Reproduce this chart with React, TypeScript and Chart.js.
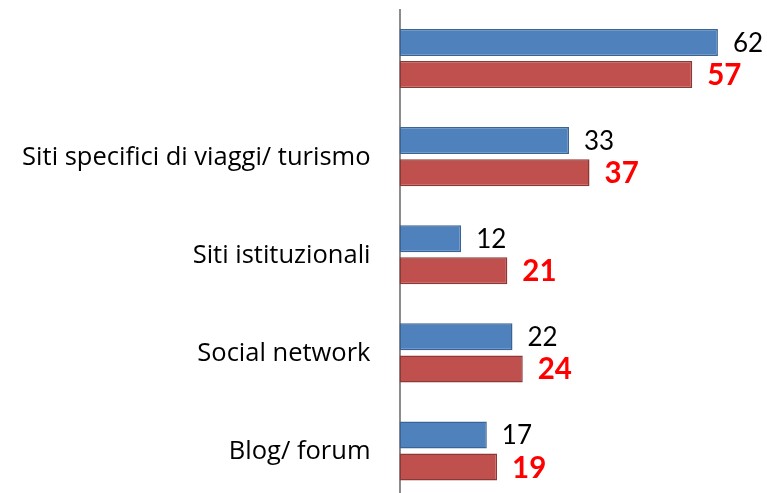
import React, { useEffect, useRef } from "react";
import { Chart, registerables } from "chart.js";

Chart.register(...registerables);

const categories = ["", "Siti specifici di viaggi/ turismo", "Siti istituzionali", "Social network", "Blog/ forum"];
const blueValues = [62, 33, 12, 22, 17];
const redValues = [57, 37, 21, 24, 19];

const FONT = "Lato, 'Open Sans', sans-serif";
const LABEL_FONT = "'Open Sans', sans-serif";

const customLabels = {
  id: "customLabels",
  afterDatasetsDraw(chart: any) {
    const ctx = chart.ctx;
    const yScale = chart.scales.y;
    ctx.save();
    ctx.font = `400 25.5px ${LABEL_FONT}`;
    ctx.fillStyle = "#000000";
    ctx.textAlign = "right";
    ctx.textBaseline = "middle";
    chart.data.labels.forEach((lab: string, i: number) => {
      ctx.fillText(lab, yScale.right - 29, yScale.getPixelForValue(i) + 1);
    });
    ctx.restore();
    chart.data.datasets.forEach((ds: any, di: number) => {
      const meta = chart.getDatasetMeta(di);
      meta.data.forEach((bar: any, i: number) => {
        ctx.save();
        if (di === 0) {
          ctx.font = `400 26px ${FONT}`;
          ctx.fillStyle = "#000000";
        } else {
          ctx.font = `700 29.5px ${FONT}`;
          ctx.fillStyle = "#FF0000";
        }
        ctx.textAlign = "left";
        ctx.textBaseline = "middle";
        ctx.fillText(String(ds.data[i]), bar.x + 15, bar.y + 1);
        ctx.restore();
      });
    });
  },
};

export default function App() {
  const ref = useRef<HTMLCanvasElement>(null);
  useEffect(() => {
    document.body.style.margin = "0";
    document.body.style.overflow = "hidden";
    const chart = new Chart(ref.current!, {
      type: "bar",
      data: {
        labels: categories,
        datasets: [
          {
            data: blueValues,
            backgroundColor: "#4F81BD",
            borderColor: "#3A6496",
            borderWidth: 1.5,
            borderSkipped: false,
            categoryPercentage: 0.655,
            barPercentage: 0.84,
          },
          {
            data: redValues,
            backgroundColor: "#C0504D",
            borderColor: "#8C3836",
            borderWidth: 1.5,
            borderSkipped: false,
            categoryPercentage: 0.655,
            barPercentage: 0.84,
          },
        ],
      },
      options: {
        indexAxis: "y",
        animation: false,
        responsive: false,
        layout: { padding: { top: 9.5, right: 8, bottom: 0, left: 0 } },
        plugins: { legend: { display: false }, tooltip: { enabled: false } },
        scales: {
          x: { display: false, min: 0, max: 70 },
          y: {
            grid: { display: false, drawTicks: false },
            border: { display: true, color: "#8C8C8C", width: 2 },
            ticks: { display: false },
            afterFit(scale: any) {
              scale.width = 399.5;
            },
          },
        },
      },
      plugins: [customLabels],
    });
    return () => chart.destroy();
  }, []);
  return (
    <div style={{ width: 767, height: 493, overflow: "hidden" }}>
      <canvas ref={ref} width={767} height={500} style={{ display: "block" }} />
    </div>
  );
}
